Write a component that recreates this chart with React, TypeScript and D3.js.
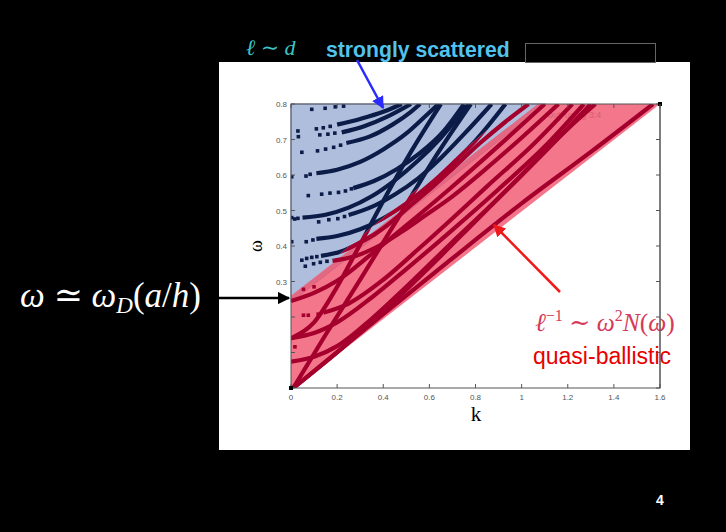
import React from 'react';
import * as d3 from 'd3';

const W = 726;
const H = 532;

// axis ticks
const xTicks = [0, 0.2, 0.4, 0.6, 0.8, 1, 1.2, 1.4, 1.6];
const xTickLabels = ['0', '0.2', '0.4', '0.6', '0.8', '1', '1.2', '1.4', '1.6'];
const yTicks = [0, 0.1, 0.2, 0.3, 0.4, 0.5, 0.6, 0.7, 0.8];
const yLabelTicks = [0.3, 0.4, 0.5, 0.6, 0.7, 0.8];

// shaded regions (k, omega)
const redZone = [[0.015, 0], [0, 0], [0, 0.26], [1.07, 0.8], [1.6, 0.8]];
const blueZone = [[0, 0.242], [0, 0.8], [1.105, 0.8]];
const navyClip = [[-0.05, 0.2348], [-0.05, 0.9], [1.169, 0.9]];
const redClip = [[-0.05, -0.05], [-0.05, 0.2348], [1.169, 0.9], [1.8, 0.9], [1.8, -0.05]];

// dispersion branches (dense parts)
const B1 = [[0.2, 0.742], [0.3, 0.758], [0.4, 0.778], [0.48, 0.8]];
const B2 = [[0.22, 0.72], [0.32, 0.738], [0.42, 0.765], [0.52, 0.8]];
const B3 = [[0.24, 0.69], [0.34, 0.708], [0.44, 0.742], [0.52, 0.778], [0.56, 0.8]];
const B4 = [[0.11, 0.605], [0.2, 0.615], [0.3, 0.637], [0.4, 0.672], [0.5, 0.717], [0.58, 0.764], [0.64, 0.8]];
const B5 = [[0.27, 0.563], [0.36, 0.583], [0.46, 0.617], [0.56, 0.662], [0.66, 0.722], [0.75, 0.8]];
const B6 = [[0.05, 0.48], [0.15, 0.488], [0.25, 0.508], [0.35, 0.54], [0.45, 0.585], [0.55, 0.64], [0.65, 0.705], [0.77, 0.8]];
const B7 = [[0.25, 0.487], [0.35, 0.51], [0.45, 0.545], [0.55, 0.59], [0.65, 0.648], [0.75, 0.715], [0.87, 0.8]];
const B8 = [[0.11, 0.42], [0.2, 0.428], [0.3, 0.447], [0.4, 0.478], [0.5, 0.52], [0.6, 0.572], [0.7, 0.632], [0.8, 0.697], [0.93, 0.8]];
const B9 = [[0.13, 0.372], [0.22, 0.385], [0.3, 0.41], [0.36, 0.432], [0.44, 0.47], [0.52, 0.515], [0.62, 0.57], [0.72, 0.63], [0.82, 0.69], [0.93, 0.75], [1.03, 0.8]];
const B10 = [[0.18, 0.358], [0.28, 0.372], [0.38, 0.4], [0.48, 0.44], [0.58, 0.485], [0.69, 0.535], [0.85, 0.62], [1.0, 0.705], [1.16, 0.8]];
const Ra = [[0, 0.245], [0.1, 0.268], [0.2, 0.302], [0.35, 0.378], [0.5, 0.458], [0.69, 0.562], [0.9, 0.682], [1.1, 0.8]];
const Rd = [[0.14, 0.212], [0.25, 0.238], [0.4, 0.305], [0.55, 0.39], [0.69, 0.472], [0.85, 0.568], [1.05, 0.686], [1.22, 0.8]];
const Rb = [[0, 0.14], [0.1, 0.155], [0.2, 0.185], [0.35, 0.255], [0.5, 0.335], [0.69, 0.44], [0.9, 0.56], [1.1, 0.68], [1.27, 0.8]];
const Rc = [[0, 0.074], [0.1, 0.088], [0.2, 0.118], [0.35, 0.195], [0.5, 0.285], [0.69, 0.405], [0.9, 0.535], [1.1, 0.665], [1.3, 0.8]];
const Rf = [[0.01, 0], [0.2, 0.1], [0.4, 0.215], [0.6, 0.34], [0.8, 0.47], [1.0, 0.6], [1.2, 0.73], [1.32, 0.8]];
const R0 = [[0.01, 0], [0.4, 0.208], [0.69, 0.36], [1.0, 0.52], [1.3, 0.665], [1.57, 0.8]];
const S1 = [[0.01, 0], [0.15, 0.15], [0.3, 0.305], [0.475, 0.49], [0.62, 0.645], [0.78, 0.8]];
const S2 = [[0, 0.14], [0.1, 0.185], [0.2, 0.285], [0.3, 0.405], [0.39, 0.515], [0.52, 0.665], [0.65, 0.8]];
const branches = [B1, B2, B3, B4, B5, B6, B7, B8, B9, B10, Ra, Rd, Rb, Rc, Rf, R0, S1, S2];

// sparse isolated points near k = 0
const sparseDots = [
  [0.09, 0.785], [0.148, 0.788], [0.192, 0.792], [0.228, 0.794],
  [0.03, 0.724], [0.032, 0.708], [0.11, 0.73], [0.14, 0.733], [0.17, 0.737],
  [0.125, 0.713], [0.16, 0.715], [0.19, 0.718],
  [0.047, 0.664], [0.115, 0.668], [0.15, 0.673], [0.185, 0.678], [0.215, 0.684],
  [0.003, 0.595], [0.065, 0.597], [0.083, 0.602],
  [0.075, 0.542], [0.133, 0.546], [0.169, 0.549], [0.206, 0.551], [0.236, 0.555], [0.262, 0.561],
  [0.003, 0.48], [0.016, 0.476], [0.03, 0.478],
  [0.12, 0.468], [0.164, 0.474], [0.203, 0.477], [0.232, 0.483],
  [0.003, 0.412], [0.066, 0.412], [0.095, 0.417],
  [0.047, 0.36], [0.068, 0.365], [0.09, 0.368], [0.112, 0.37],
  [0.062, 0.343], [0.098, 0.35], [0.127, 0.354], [0.156, 0.357],
  [0.054, 0.278], [0.1, 0.285],
  [0.054, 0.205], [0.075, 0.205], [0.118, 0.208],
  [0.017, 0.116]
];

const x = d3.scaleLinear().domain([0, 1.6]).range([291, 660]);
const y = d3.scaleLinear().domain([0, 0.8]).range([388, 104]);

const line = d3.line<number[]>().x(d => x(d[0])).y(d => y(d[1])).curve(d3.curveMonotoneX);
const poly = (pts: number[][]) => pts.map(p => `${x(p[0])},${y(p[1])}`).join(' ');

const NAVY = '#0c1c48';
const DARKRED = '#a5002d';

function Marks({ color }: { color: string }) {
  return (
    <g>
      {branches.map((b, i) => (
        <path key={i} d={line(b) || ''} fill="none" stroke={color} strokeWidth={4.2} />
      ))}
      {sparseDots.map((d, i) => (
        <rect key={i} x={x(d[0]) - 1.8} y={y(d[1]) - 1.8} width={3.6} height={3.6} fill={color} />
      ))}
    </g>
  );
}

export default function App() {
  const tickFont = { fontFamily: 'Liberation Sans, Arial, sans-serif', fontSize: 8, fill: '#555' };
  return (
    <svg width={W} height={H} style={{ position: 'absolute', left: 0, top: 0, background: '#000' }}>
      <defs>
        <clipPath id="clipNavy"><polygon points={poly(navyClip)} /></clipPath>
        <clipPath id="clipRed"><polygon points={poly(redClip)} /></clipPath>
        <clipPath id="clipPlot"><rect x={x(0)} y={y(0.8)} width={x(1.6) - x(0)} height={y(0) - y(0.8)} /></clipPath>
        <marker id="ahBlue" viewBox="0 0 10 10" refX="9" refY="5" markerWidth="5" markerHeight="5" orient="auto" markerUnits="strokeWidth">
          <path d="M0,0 L10,5 L0,10 z" fill="#2a2aff" />
        </marker>
        <marker id="ahRed" viewBox="0 0 10 10" refX="9" refY="5" markerWidth="5" markerHeight="5" orient="auto" markerUnits="strokeWidth">
          <path d="M0,0 L10,5 L0,10 z" fill="#ee1a1a" />
        </marker>
        <marker id="ahBlack" viewBox="0 0 10 10" refX="9" refY="5" markerWidth="5" markerHeight="5" orient="auto" markerUnits="strokeWidth">
          <path d="M0,0 L10,5 L0,10 z" fill="#000" />
        </marker>
      </defs>
      <rect x={0} y={0} width={W} height={H} fill="#000" />
      {/* white panel */}
      <rect x={219} y={62} width={471} height={388} fill="#fff" />
      {/* black box top right */}
      <rect x={525.5} y={43.5} width={130} height={19} fill="#000" stroke="#666" strokeWidth={1} />

      {/* faint key text */}
      <text x={548} y={118} fontFamily="Liberation Sans, Arial, sans-serif" fontSize={9} fill="#777">out' using 3:4</text>

      {/* regions */}
      <polygon points={poly(blueZone)} fill="#afbedd" stroke="#8192c2" strokeWidth={1} />
      <g clipPath="url(#clipPlot)">
        <g clipPath="url(#clipNavy)"><Marks color={NAVY} /></g>
      </g>
      <polygon points={poly(redZone)} fill="#f0546d" fillOpacity={0.8} />
      <g clipPath="url(#clipPlot)">
        <g clipPath="url(#clipRed)"><Marks color={DARKRED} /></g>
      </g>

      {/* axes frame */}
      <rect x={x(0)} y={y(0.8)} width={x(1.6) - x(0)} height={y(0) - y(0.8)} fill="none" stroke="#555" strokeWidth={1} />
      {xTicks.map((t, i) => (
        <g key={'xt' + i}>
          <line x1={x(t)} x2={x(t)} y1={y(0)} y2={y(0) - 4} stroke="#555" />
          <line x1={x(t)} x2={x(t)} y1={y(0.8)} y2={y(0.8) + 4} stroke="#555" />
          <text x={x(t)} y={y(0) + 12} textAnchor="middle" {...tickFont}>{xTickLabels[i]}</text>
        </g>
      ))}
      {yTicks.map((t, i) => (
        <g key={'yt' + i}>
          <line x1={x(0)} x2={x(0) + 4} y1={y(t)} y2={y(t)} stroke="#555" />
          <line x1={x(1.6)} x2={x(1.6) - 4} y1={y(t)} y2={y(t)} stroke="#555" />
        </g>
      ))}
      {yLabelTicks.map((t, i) => (
        <text key={'yl' + i} x={x(0) - 4} y={y(t) + 3} textAnchor="end" {...tickFont}>{t.toFixed(1)}</text>
      ))}
      <rect x={x(0) - 2} y={y(0) - 2} width={4} height={4} fill="#000" />
      <rect x={x(1.6) - 2} y={y(0.8) - 2} width={4} height={4} fill="#000" />

      {/* axis titles */}
      <text x={476} y={421} textAnchor="middle" fontFamily="Liberation Serif, Times New Roman, serif" fontSize={21} fill="#000">k</text>
      <text transform="translate(262,246) rotate(-90)" textAnchor="middle" fontFamily="Liberation Serif, Times New Roman, serif" fontSize={18} fill="#000">ω</text>

      {/* top annotations */}
      <text x={246} y={55} fontFamily="Liberation Serif, DejaVu Serif, serif" fontStyle="italic" fontSize={22} fill="#3cc4c4">ℓ ∼ d</text>
      <text x={326} y={57} fontFamily="Liberation Sans, Arial, sans-serif" fontWeight="bold" fontSize={21.2} fill="#52c3ec">strongly scattered</text>
      <line x1={357} y1={60} x2={383} y2={108} stroke="#2a2aff" strokeWidth={2.5} markerEnd="url(#ahBlue)" />

      {/* left annotation */}
      <text x={20} y={307} fontFamily="Liberation Serif, DejaVu Serif, serif" fontSize={35} fill="#fff">
        <tspan fontStyle="italic">ω</tspan>
        <tspan> ≃ </tspan>
        <tspan fontStyle="italic">ω</tspan>
        <tspan fontStyle="italic" fontSize={23} dy={6}>D</tspan>
        <tspan dy={-6}>(</tspan>
        <tspan fontStyle="italic">a</tspan>
        <tspan>/</tspan>
        <tspan fontStyle="italic">h</tspan>
        <tspan>)</tspan>
      </text>
      <line x1={218} y1={298} x2={289} y2={298} stroke="#000" strokeWidth={2.5} markerEnd="url(#ahBlack)" />

      {/* right annotation */}
      <line x1={560} y1={292} x2={494} y2={225} stroke="#ee1a1a" strokeWidth={2.5} markerEnd="url(#ahRed)" />
      <text x={535} y={331} fontFamily="Liberation Serif, DejaVu Serif, serif" fontSize={25.5} fill="#d63a58">
        <tspan fontStyle="italic">ℓ</tspan>
        <tspan fontSize={16} dy={-10}>−1</tspan>
        <tspan dy={10}> ∼ </tspan>
        <tspan fontStyle="italic">ω</tspan>
        <tspan fontSize={16} dy={-10}>2</tspan>
        <tspan fontStyle="italic" dy={10}>N</tspan>
        <tspan>(</tspan>
        <tspan fontStyle="italic">ω</tspan>
        <tspan>)</tspan>
      </text>
      <text x={533} y={364} fontFamily="Liberation Sans, Arial, sans-serif" fontSize={23} fill="#e80000">quasi-ballistic</text>
      <line x1={x(1.6)} x2={x(1.6)} y1={y(0.8)} y2={y(0)} stroke="#555" strokeWidth={1} />

      {/* page number */}
      <text x={660} y={505} textAnchor="middle" fontFamily="Liberation Sans, Arial, sans-serif" fontWeight="bold" fontSize={14} fill="#fff">4</text>
    </svg>
  );
}
